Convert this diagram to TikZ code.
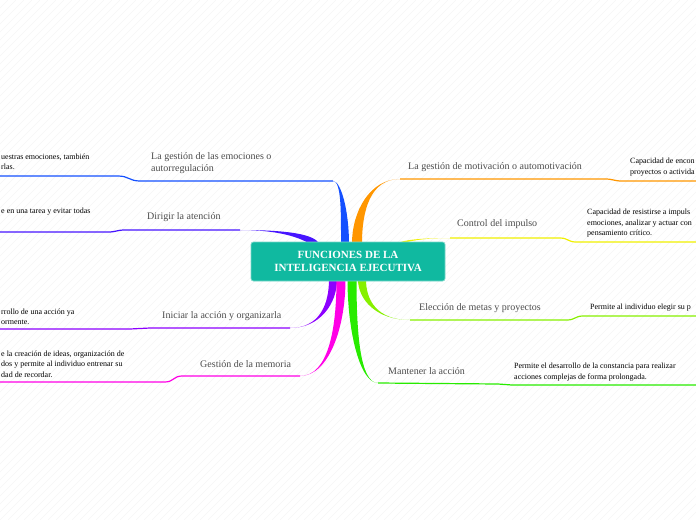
\documentclass[tikz,border=0pt]{standalone}
\usepackage{fontspec}
\setmainfont{Liberation Serif}
\definecolor{rootfill}{RGB}{16, 185, 160}
\definecolor{rootline}{RGB}{120, 215, 200}
\definecolor{emoc}{RGB}{20, 80, 255}
\definecolor{atenc}{RGB}{70, 20, 255}
\definecolor{inic}{RGB}{140, 0, 255}
\definecolor{memc}{RGB}{255, 0, 230}
\definecolor{motc}{RGB}{255, 150, 0}
\definecolor{impc}{RGB}{240, 240, 0}
\definecolor{metc}{RGB}{135, 240, 0}
\definecolor{manc}{RGB}{40, 235, 0}
\usetikzlibrary{calc, backgrounds}
\tikzset{
  lbl/.style={font=\fontsize{10}{12}\selectfont, text=black!70, align=left, inner sep=0pt, anchor=west},
  note/.style={font=\fontsize{8}{10.5}\selectfont, align=left, inner sep=0pt, anchor=west},
  hatch/.style={black!4, line width=0.4pt}
}
% #1 name, #2 colour, #3 root, #4 knee, #5 end of label line, #6 start of note line, #7 far end, #8 half width
\newcommand{\limb}[8]{%
  \coordinate (#1-r) at #3;
  \coordinate (#1-k) at #4;
  \coordinate (#1-e) at #5;
  \coordinate (#1-s) at #6;
  \coordinate (#1-z) at #7;
  \fill[#2] ($(#1-r)+#8$) .. controls ($($(#1-r)!0.5!(#1-r|-#1-k)$)+#8$) and ($(#1-r|-#1-k)!0.3!(#1-k)$) .. (#1-k)
    .. controls ($(#1-r|-#1-k)!0.3!(#1-k)$) and ($($(#1-r)!0.5!(#1-r|-#1-k)$)-#8$) .. ($(#1-r)-#8$) -- cycle;
  \draw[#2, line width=1.2pt] (#1-k) -- (#1-e) .. controls ($(#1-e)!0.5!(#1-s|-#1-e)$) and ($(#1-s)!0.5!(#1-e|-#1-s)$) .. (#1-s) -- (#1-z);
}
\begin{document}
\begin{tikzpicture}[x=1pt, y=-1pt]
  \useasboundingbox (0,0) rectangle (696,520);
  \node[fill=rootfill, draw=rootline, line width=0.8pt, rounded corners=2.5pt,
        minimum width=194pt, minimum height=39pt, text=white, align=center,
        font=\fontsize{11}{13}\selectfont\bfseries] (root) at (348,261.5)
        {FUNCIONES DE LA\\INTELIGENCIA EJECUTIVA};
  \begin{scope}[on background layer]
    \foreach \i in {-520,-512,...,696}
      \draw[hatch] (\i,520) -- ++(520,-520);
    % left side
    \limb{emo}{emoc}{($(root.north)+(-3,2)$)}{(333,181)}{(140,181)}{(118,176)}{(0,176)}{(4,0)}
    \limb{aten}{atenc}{($(root.north west)+(69,10)$)}{(240,230)}{(125,230)}{(108,232)}{(0,232)}{(0,5)}
    \limb{ini}{inic}{($(root.south)+(-15,-2)$)}{(290,328)}{(150,328)}{(130,329)}{(0,329)}{(4,0)}
    \limb{mem}{memc}{($(root.south)+(-7,-2)$)}{(300,376)}{(182,376)}{(165,382)}{(0,382)}{(4.5,0)}
    % right side
    \limb{mot}{motc}{($(root.north)+(9,2)$)}{(400,179)}{(605,179)}{(622,181)}{(696,181)}{(5,0)}
    \limb{imp}{impc}{($(root.north east)+(-50,6)$)}{(450,238)}{(560,238)}{(576,242)}{(696,242)}{(0,1.5)}
    \limb{met}{metc}{($(root.south)+(14,-2)$)}{(410,320)}{(567,320)}{(583,316)}{(696,316)}{(4,0)}
    \limb{man}{manc}{($(root.south)+(4,-2)$)}{(378,383)}{(498,384)}{(512,385)}{(696,385)}{(4.5,0)}
  \end{scope}
  % labels
  \node[lbl] (emo) at (151,163) {La gestión de las emociones o\\autorregulación};
  \node[lbl] (aten) at (147,217) {Dirigir la atención};
  \node[lbl] (ini) at (162,316) {Iniciar la acción y organizarla};
  \node[lbl] (mem) at (200,364) {Gestión de la memoria};
  \node[lbl] (mot) at (408,167) {La gestión de motivación o automotivación};
  \node[lbl] (imp) at (457,224) {Control del impulso};
  \node[lbl] (met) at (419,308) {Elección de metas y proyectos};
  \node[lbl] (man) at (388,371) {Mantener la acción};
  % notes
  \node[note] (emo-n) at (1,162) {uestras emociones, también\\rlas.};
  \node[note] (aten-n) at (1,212) {e en una tarea y evitar todas};
  \node[note] (ini-n) at (1,317) {rrollo de una acción ya\\ormente.};
  \node[note] (mem-n) at (1,364) {e la creación de ideas, organización de\\dos y permite al individuo entrenar su\\dad de recordar.};
  \node[note] (mot-n) at (630,167) {Capacidad de encon\\proyectos o activida};
  \node[note] (imp-n) at (587,223.5) {Capacidad de resistirse a impuls\\emociones, analizar y actuar con\\pensamiento crítico.};
  \node[note] (met-n) at (590,308) {Permite al individuo elegir su p};
  \node[note] (man-n) at (514,372) {Permite el desarrollo de la constancia para realizar\\acciones complejas de forma prolongada.};
\end{tikzpicture}
\end{document}
